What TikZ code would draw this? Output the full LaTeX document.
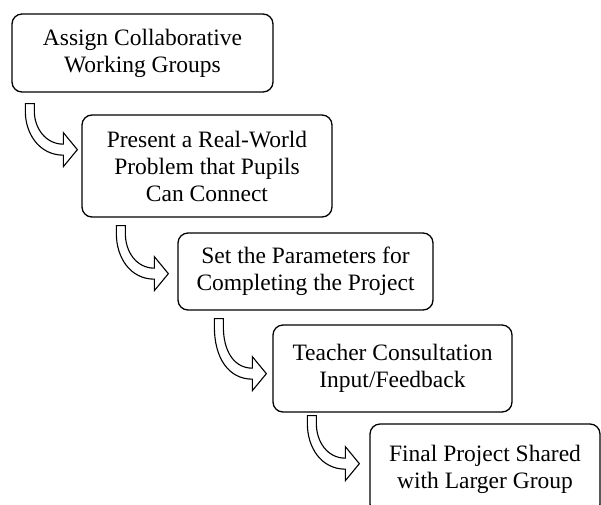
\documentclass[tikz,border=0pt]{standalone}
\usepackage{fontspec}
\setmainfont{Liberation Serif}
\begin{document}
\begin{tikzpicture}[x=1pt,y=-1pt,
  box/.style={draw=black,line width=1.3pt,rounded corners=10pt,align=center,
    font=\fontsize{23.5}{27}\selectfont,inner sep=0pt},
  barrow/.pic={
    \draw[line width=1.1pt,fill=white,line join=miter]
      (0,0) -- (9,0) -- (9,8)
      .. controls (9,{#1-22}) and (20,{#1-5.5}) .. (38,{#1-5.5})
      -- (38,{#1-17}) -- (52,#1) -- (38,{#1+17}) -- (38,{#1+5.5})
      .. controls (14,{#1+5.5}) and (0,{#1-16}) .. (0,8) -- cycle;
  }]
\useasboundingbox (0,0) rectangle (601,504);
\clip (0,0) rectangle (601,504);
\node[box,minimum width=261pt,minimum height=78pt] (b1) at (142.5,53)
  {Assign Collaborative\\Working Groups};
\node[box,minimum width=250pt,minimum height=102pt] (b2) at (207,166)
  {Present a Real-World\\Problem that Pupils\\Can Connect};
\node[box,minimum width=255pt,minimum height=77pt] (b3) at (305.5,271.5)
  {Set the Parameters for\\Completing the Project};
\node[box,minimum width=239pt,minimum height=87pt] (b4) at (392.5,368.5)
  {Teacher Consultation\\Input/Feedback};
\node[box,minimum width=230pt,minimum height=90pt] (b5) at (485,469)
  {Final Project Shared\\with Larger Group};
\path ([xshift=14pt,yshift=-11pt]b1.south west) pic {barrow=46};
\path ([xshift=35pt,yshift=-8pt]b2.south west) pic {barrow=48};
\path ([xshift=37pt,yshift=-8pt]b3.south west) pic {barrow=55};
\path ([xshift=35pt,yshift=-3pt]b4.south west) pic {barrow=48};
\end{tikzpicture}
\end{document}
